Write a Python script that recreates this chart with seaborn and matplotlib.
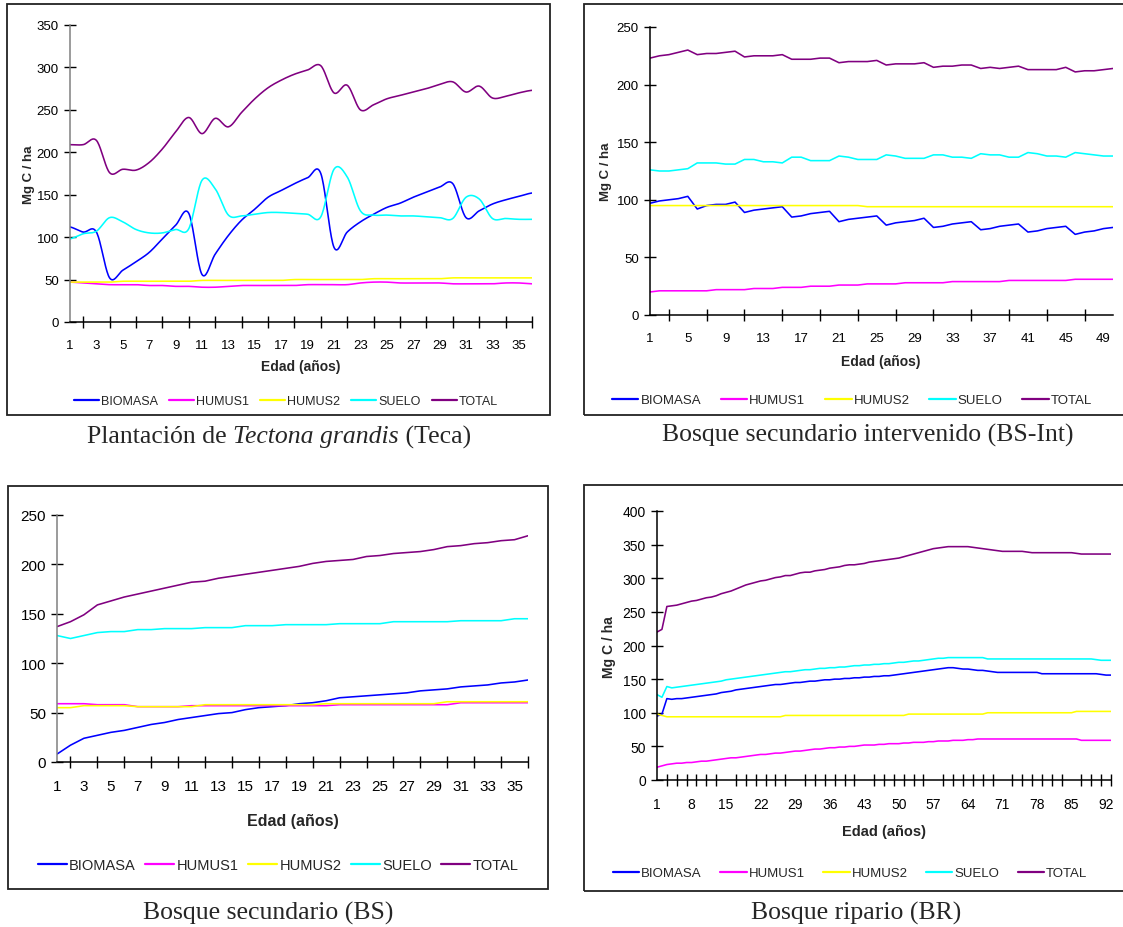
import numpy as np
import pandas as pd
import matplotlib
matplotlib.use("Agg")
import matplotlib.pyplot as plt
import seaborn as sns
from matplotlib.patches import Rectangle
from matplotlib.lines import Line2D
from matplotlib import font_manager

# ---------------- DATA ----------------
SERIES = ["BIOMASA", "HUMUS1", "HUMUS2", "SUELO", "TOTAL"]

# Panel 1: Plantación de Tectona grandis (Teca), años 1..36
teca_biomasa = [112, 106, 106, 52, 61, 71, 82, 98, 114, 128, 56, 80, 102, 120, 133, 147, 155, 163,
                170, 175, 88, 106, 118, 127, 135, 140, 147, 153, 159, 163, 123, 131, 139, 144, 148, 152]
teca_humus1 = [47, 46, 45, 44, 44, 44, 43, 43, 42, 42, 41, 41, 42, 43, 43, 43, 43, 43,
               44, 44, 44, 44, 46, 47, 47, 46, 46, 46, 46, 45, 45, 45, 45, 46, 46, 45]
teca_humus2 = [47, 47, 47, 47, 48, 48, 48, 48, 48, 48, 49, 49, 49, 49, 49, 49, 49, 50,
               50, 50, 50, 50, 50, 51, 51, 51, 51, 51, 51, 52, 52, 52, 52, 52, 52, 52]
teca_suelo = [98, 104, 107, 123, 118, 109, 105, 105, 109, 110, 167, 157, 126, 125, 127, 129, 129, 128,
              127, 124, 180, 171, 131, 126, 126, 125, 125, 124, 123, 122, 147, 145, 122, 122, 121, 121]
teca_total = [209, 209, 214, 176, 180, 179, 188, 204, 224, 241, 222, 240, 230, 247, 263, 276, 285, 292,
              297, 302, 270, 279, 250, 256, 263, 267, 271, 275, 280, 283, 271, 278, 264, 266, 270, 273]

# Panel 2: Bosque secundario intervenido (BS-Int), años 1..50
bsi_biomasa = [97, 99, 100, 101, 103, 92, 95, 96, 96, 98, 89, 91, 92, 93, 94, 85, 86, 88, 89, 90,
               81, 83, 84, 85, 86, 78, 80, 81, 82, 84, 76, 77, 79, 80, 81, 74, 75, 77, 78, 79,
               72, 73, 75, 76, 77, 70, 72, 73, 75, 76]
bsi_humus1 = [20, 21, 21, 21, 21, 21, 21, 22, 22, 22, 22, 23, 23, 23, 24, 24, 24, 25, 25, 25,
              26, 26, 26, 27, 27, 27, 27, 28, 28, 28, 28, 28, 29, 29, 29, 29, 29, 29, 30, 30,
              30, 30, 30, 30, 30, 31, 31, 31, 31, 31]
bsi_humus2 = [95, 95, 95, 95, 95, 95, 95, 95, 95, 95, 95, 95, 95, 95, 95, 95, 95, 95, 95, 95,
              95, 95, 95, 94, 94, 94, 94, 94, 94, 94, 94, 94, 94, 94, 94, 94, 94, 94, 94, 94,
              94, 94, 94, 94, 94, 94, 94, 94, 94, 94]
bsi_suelo = [126, 125, 125, 126, 127, 132, 132, 132, 131, 131, 135, 135, 133, 133, 132, 137, 137, 134, 134, 134,
             138, 137, 135, 135, 135, 139, 138, 136, 136, 136, 139, 139, 137, 137, 136, 140, 139, 139, 137, 137,
             141, 140, 138, 138, 137, 141, 140, 139, 138, 138]
bsi_total = [223, 225, 226, 228, 230, 226, 227, 227, 228, 229, 224, 225, 225, 225, 226, 222, 222, 222, 223, 223,
             219, 220, 220, 220, 221, 217, 218, 218, 218, 219, 215, 216, 216, 217, 217, 214, 215, 214, 215, 216,
             213, 213, 213, 213, 215, 211, 212, 212, 213, 214]

# Panel 3: Bosque secundario (BS), años 1..36
bs_biomasa = [8, 17, 24, 27, 30, 32, 35, 38, 40, 43, 45, 47, 49, 50, 53, 55, 56, 57,
              59, 60, 62, 65, 66, 67, 68, 69, 70, 72, 73, 74, 76, 77, 78, 80, 81, 83]
bs_humus1 = [59, 59, 59, 58, 58, 58, 56, 56, 56, 56, 57, 57, 57, 57, 57, 57, 57, 57,
             57, 57, 57, 58, 58, 58, 58, 58, 58, 58, 58, 58, 60, 60, 60, 60, 60, 60]
bs_humus2 = [55, 55, 57, 57, 57, 57, 56, 56, 56, 56, 56, 58, 58, 58, 58, 58, 58, 58,
             58, 58, 59, 59, 59, 59, 59, 59, 59, 59, 59, 61, 61, 61, 61, 61, 61, 61]
bs_suelo = [128, 125, 128, 131, 132, 132, 134, 134, 135, 135, 135, 136, 136, 136, 138, 138, 138, 139,
            139, 139, 139, 140, 140, 140, 140, 142, 142, 142, 142, 142, 143, 143, 143, 143, 145, 145]
bs_total = [137, 142, 149, 159, 163, 167, 170, 173, 176, 179, 182, 183, 186, 188, 190, 192, 194, 196,
            198, 201, 203, 204, 205, 208, 209, 211, 212, 213, 215, 218, 219, 221, 222, 224, 225, 229]

# Panel 4: Bosque ripario (BR), años 1..93
br_biomasa = [95, 98, 121, 120, 121, 121, 122, 123, 124, 125,
              126, 127, 128, 130, 131, 132, 134, 135, 136, 137,
              138, 139, 140, 141, 142, 142, 143, 144, 145, 145,
              146, 147, 147, 148, 149, 149, 150, 150, 151, 151,
              152, 152, 153, 153, 154, 154, 155, 155, 156, 157,
              158, 159, 160, 161, 162, 163, 164, 165, 166, 167,
              167, 166, 165, 165, 164, 163, 163, 162, 161, 160,
              160, 160, 160, 160, 160, 160, 160, 160, 158, 158,
              158, 158, 158, 158, 158, 158, 158, 158, 158, 158,
              157, 156, 156]
br_humus1 = [19, 21, 23, 24, 25, 25, 26, 26, 27, 28,
             28, 29, 30, 31, 32, 33, 33, 34, 35, 36,
             37, 38, 38, 39, 40, 40, 41, 42, 43, 43,
             44, 45, 46, 46, 47, 48, 48, 49, 49, 50,
             50, 51, 52, 52, 52, 53, 53, 54, 54, 54,
             55, 55, 56, 56, 56, 57, 57, 58, 58, 58,
             59, 59, 59, 60, 60, 61, 61, 61, 61, 61,
             61, 61, 61, 61, 61, 61, 61, 61, 61, 61,
             61, 61, 61, 61, 61, 61, 59, 59, 59, 59,
             59, 59, 59]
br_humus2 = [98, 96, 94, 94, 94, 94, 94, 94, 94, 94,
             94, 94, 94, 94, 94, 94, 94, 94, 94, 94,
             94, 94, 94, 94, 94, 94, 96, 96, 96, 96,
             96, 96, 96, 96, 96, 96, 96, 96, 96, 96,
             96, 96, 96, 96, 96, 96, 96, 96, 96, 96,
             96, 98, 98, 98, 98, 98, 98, 98, 98, 98,
             98, 98, 98, 98, 98, 98, 98, 100, 100, 100,
             100, 100, 100, 100, 100, 100, 100, 100, 100, 100,
             100, 100, 100, 100, 100, 102, 102, 102, 102, 102,
             102, 102, 102]
br_suelo = [127, 123, 139, 137, 138, 139, 140, 141, 142, 143,
            144, 145, 146, 147, 149, 150, 151, 152, 153, 154,
            155, 156, 157, 158, 159, 160, 161, 161, 162, 163,
            164, 164, 165, 166, 166, 167, 167, 168, 168, 169,
            170, 170, 171, 171, 172, 172, 173, 173, 174, 175,
            175, 176, 177, 177, 178, 179, 180, 181, 181, 182,
            182, 182, 182, 182, 182, 182, 182, 180, 180, 180,
            180, 180, 180, 180, 180, 180, 180, 180, 180, 180,
            180, 180, 180, 180, 180, 180, 180, 180, 180, 179,
            178, 178, 178]
br_total = [220, 224, 258, 259, 260, 262, 264, 266, 267, 269,
            271, 272, 274, 277, 279, 281, 284, 287, 290, 292,
            294, 296, 297, 299, 301, 302, 304, 304, 306, 308,
            309, 309, 311, 312, 313, 315, 316, 317, 319, 320,
            320, 321, 322, 324, 325, 326, 327, 328, 329, 330,
            332, 334, 336, 338, 340, 342, 344, 345, 346, 347,
            347, 347, 347, 347, 346, 345, 344, 343, 342, 341,
            340, 340, 340, 340, 340, 339, 338, 338, 338, 338,
            338, 338, 338, 338, 338, 337, 336, 336, 336, 336,
            336, 336, 336]

CAPTIONS = ["Plantación de ", "Tectona grandis", " (Teca)",
            "Bosque secundario intervenido (BS-Int)",
            "Bosque secundario (BS)", "Bosque ripario (BR)"]
XLABEL = "Edad (años)"
YLABEL = "Mg C / ha"

# ---------------- STYLE ----------------
sns.set_theme(style="white")
plt.rcParams["font.family"] = ["Liberation Sans", "DejaVu Sans"]
names = {f.name for f in font_manager.fontManager.ttflist}
NARROW = "Liberation Sans Narrow" if "Liberation Sans Narrow" in names else "Liberation Sans"

COLORS = {"BIOMASA": "#0000FF", "HUMUS1": "#FF00FF", "HUMUS2": "#FFFF00",
          "SUELO": "#00FFFF", "TOTAL": "#800080"}

W, H = 1123, 928
fig = plt.figure(figsize=(W / 100, H / 100), dpi=100)
fig.patch.set_facecolor("white")


def fx(p):
    return p / W


def fy(p):
    return 1 - p / H


def smooth(x, y, n=20):
    x = np.asarray(x, float)
    y = np.asarray(y, float)
    yp = np.concatenate([[y[0]], y, [y[-1]]])
    t = np.linspace(0, 1, n, endpoint=False)
    xs, ys = [], []
    for i in range(len(x) - 1):
        p0, p1, p2, p3 = yp[i], yp[i + 1], yp[i + 2], yp[i + 3]
        yy = 0.5 * (2 * p1 + (-p0 + p2) * t + (2 * p0 - 5 * p1 + 4 * p2 - p3) * t ** 2
                    + (-p0 + 3 * p1 - 3 * p2 + p3) * t ** 3)
        xs.append(x[i] + (x[i + 1] - x[i]) * t)
        ys.append(yy)
    xs.append([x[-1]])
    ys.append([y[-1]])
    return np.concatenate(xs), np.concatenate(ys)


def panel(values, box, axpx, ymax, ystep, tick_pos, label_pos, xlab_xy, ylab_xy,
          leg_xy, smooth_on, fs, family, leg_fs, colspace, hlen, left_color):
    l, t, r, b = axpx
    bl, bt, br_, bb = box
    fig.add_artist(Rectangle((fx(bl), fy(bb)), (br_ - bl) / W, (bb - bt) / H,
                             transform=fig.transFigure, fill=False,
                             edgecolor="#222222", lw=1.3, zorder=0))
    ax = fig.add_axes([fx(l), fy(b), (r - l) / W, (b - t) / H])
    ax.set_facecolor("none")
    n = len(values[0])
    xs = np.arange(1, n + 1)
    for name, ys in zip(SERIES, values):
        if smooth_on:
            sx, sy = smooth(xs, ys)
        else:
            sx, sy = xs, np.asarray(ys, float)
        df = pd.DataFrame({"x": sx, "y": sy})
        sns.lineplot(data=df, x="x", y="y", ax=ax, color=COLORS[name], lw=1.15,
                     estimator=None, sort=False, legend=False)
    ax.set_xlim(1, n)
    ax.set_ylim(0, ymax)
    ax.set_xlabel("")
    ax.set_ylabel("")
    sns.despine(ax=ax)
    ax.spines["left"].set_color(left_color)
    ax.spines["bottom"].set_color("black")
    ax.spines["left"].set_linewidth(1.1)
    ax.spines["bottom"].set_linewidth(1.1)
    ax.set_yticks(np.arange(0, ymax + 1, ystep))
    ax.set_xticks(label_pos)
    ax.set_xticklabels([str(v) for v in label_pos])
    ax.set_xticks(tick_pos, minor=True)
    ax.tick_params(axis="x", which="major", length=0, pad=12, labelsize=fs)
    ax.tick_params(axis="x", which="minor", length=8, width=1, direction="inout",
                   color="black", bottom=True)
    ax.tick_params(axis="y", which="major", length=8, width=1, direction="inout",
                   color="black", left=True, pad=4, labelsize=fs)
    for lab in ax.get_xticklabels() + ax.get_yticklabels():
        lab.set_family([family, "DejaVu Sans"])
        lab.set_color("black")
    ax.grid(False)
    fig.text(fx(xlab_xy[0]), fy(xlab_xy[1]), XLABEL, ha="center", va="center",
             fontsize=fs + 0.5, fontweight="bold", family=[family, "DejaVu Sans"])
    if ylab_xy is not None:
        fig.text(fx(ylab_xy[0]), fy(ylab_xy[1]), YLABEL, ha="center", va="center",
                 rotation=90, fontsize=fs, fontweight="bold", family=[family, "DejaVu Sans"])
    handles = [Line2D([], [], color=COLORS[s], lw=1.6) for s in SERIES]
    fig.legend(handles, SERIES, loc="center", bbox_to_anchor=(fx(leg_xy[0]), fy(leg_xy[1])),
               ncol=5, frameon=False, handlelength=hlen, handletextpad=0.15,
               columnspacing=colspace, borderaxespad=0, borderpad=0,
               prop={"family": [family, "DejaVu Sans"], "size": leg_fs})
    return ax


# Panel 1 (Teca)
panel([teca_biomasa, teca_humus1, teca_humus2, teca_suelo, teca_total],
      box=(7, 5, 550, 416), axpx=(70, 26, 532, 323), ymax=350, ystep=50,
      tick_pos=list(range(1, 37)), label_pos=list(range(1, 37, 2)),
      xlab_xy=(301, 367), ylab_xy=(29, 175), leg_xy=(286, 402), smooth_on=True,
      fs=9.5, family="Liberation Sans", leg_fs=9, colspace=0.9, hlen=2.0,
      left_color="#808080")

# Panel 2 (BS-Int)
panel([bsi_biomasa, bsi_humus1, bsi_humus2, bsi_suelo, bsi_total],
      box=(584, 5, 1135, 416), axpx=(650, 28, 1113, 316), ymax=250, ystep=50,
      tick_pos=list(range(1, 51, 2)), label_pos=list(range(1, 51, 4)),
      xlab_xy=(881, 362), ylab_xy=(606, 172), leg_xy=(852, 401), smooth_on=False,
      fs=9.5, family="Liberation Sans", leg_fs=9.5, colspace=1.5, hlen=2.0,
      left_color="black")

# Panel 3 (BS)
panel([bs_biomasa, bs_humus1, bs_humus2, bs_suelo, bs_total],
      box=(8, 487, 548, 890), axpx=(57, 516, 528, 763), ymax=250, ystep=50,
      tick_pos=list(range(1, 37)), label_pos=list(range(1, 37, 2)),
      xlab_xy=(293, 822), ylab_xy=None, leg_xy=(278, 866), smooth_on=False,
      fs=11, family=NARROW, leg_fs=10.5, colspace=0.65, hlen=2.0,
      left_color="#808080")

# Panel 4 (BR)
panel([br_biomasa, br_humus1, br_humus2, br_suelo, br_total],
      box=(584, 486, 1135, 892), axpx=(657, 512, 1111, 781), ymax=400, ystep=50,
      tick_pos=list(range(1, 94, 2)), label_pos=list(range(1, 94, 7)),
      xlab_xy=(884, 832), ylab_xy=(609, 647), leg_xy=(850, 874), smooth_on=False,
      fs=10, family="Liberation Sans", leg_fs=9.5, colspace=1.4, hlen=2.0,
      left_color="black")

# ---------------- CAPTIONS ----------------
SERIF = ["Liberation Serif", "DejaVu Serif"]
CAP_FS = 18.5
fig.canvas.draw()
rend = fig.canvas.get_renderer()
parts = [(CAPTIONS[0], "normal"), (CAPTIONS[1], "italic"), (CAPTIONS[2], "normal")]
widths = []
for txt, st in parts:
    tt = fig.text(0, 0, txt, fontsize=CAP_FS, family=SERIF, style=st)
    widths.append(tt.get_window_extent(rend).width)
    tt.remove()
x0 = 279 - sum(widths) / 2
for (txt, st), w in zip(parts, widths):
    fig.text(fx(x0), fy(437), txt, fontsize=CAP_FS, family=SERIF, style=st,
             ha="left", va="center")
    x0 += w
fig.text(fx(868), fy(435), CAPTIONS[3], fontsize=CAP_FS, family=SERIF, ha="center", va="center")
fig.text(fx(268), fy(913), CAPTIONS[4], fontsize=CAP_FS, family=SERIF, ha="center", va="center")
fig.text(fx(856), fy(913), CAPTIONS[5], fontsize=CAP_FS, family=SERIF, ha="center", va="center")

fig.savefig("out.png", dpi=100, facecolor="white")
